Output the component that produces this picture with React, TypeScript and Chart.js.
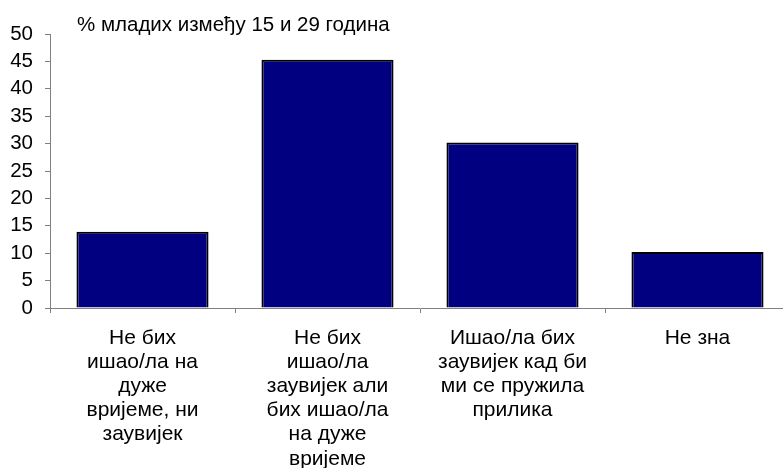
import React, { useEffect, useRef } from "react";
import { Chart, registerables } from "chart.js";

Chart.register(...registerables);

const categories: string[][] = [
  ["Не бих", "ишао/ла на", "дуже", "вријеме, ни", "заувијек"],
  ["Не бих", "ишао/ла", "заувијек али", "бих ишао/ла", "на дуже", "вријеме"],
  ["Ишао/ла бих", "заувијек кад би", "ми се пружила", "прилика"],
  ["Не зна"],
];
const values: number[] = [13.9, 45.3, 30.2, 10.2];
const yMin = 0;
const yMax = 50;
const yStep = 5;
const titleText = "% младих између 15 и 29 година";

const FONT = 'Arial, "Liberation Sans", sans-serif';

export default function App() {
  const ref = useRef<HTMLCanvasElement | null>(null);

  useEffect(() => {
    if (!ref.current) return;
    const titlePlugin = {
      id: "topTitle",
      afterDraw(chart: any) {
        const ctx = chart.ctx;
        ctx.save();
        ctx.font = `20.5px ${FONT}`;
        ctx.fillStyle = "#000";
        ctx.textAlign = "left";
        ctx.textBaseline = "alphabetic";
        ctx.fillText(titleText, chart.chartArea.left + 27, 31);
        ctx.restore();
      },
    };
    const chart = new Chart(ref.current, {
      type: "bar",
      data: {
        labels: categories,
        datasets: [
          {
            data: values,
            backgroundColor: "#000080",
            borderColor: "#000000",
            borderWidth: 2,
            categoryPercentage: 1,
            barPercentage: 0.714,
          },
        ],
      },
      options: {
        responsive: false,
        animation: false,
        layout: { padding: { top: 34, right: 10, left: 0, bottom: 0 } },
        plugins: {
          legend: { display: false },
          tooltip: { enabled: false },
          title: { display: false },
        },
        scales: {
          x: {
            grid: {
              display: true,
              drawOnChartArea: false,
              drawTicks: true,
              tickLength: 5,
              color: "#808080",
              offset: true,
            },
            border: { display: true, color: "#808080", width: 1 },
            ticks: {
              color: "#000",
              font: { family: FONT, size: 21, lineHeight: 1.15 },
              maxRotation: 0,
              minRotation: 0,
              autoSkip: false,
              padding: 13,
            },
            afterFit(scale: any) {
              scale.height = 160;
            },
          },
          y: {
            min: yMin,
            max: yMax,
            grid: {
              display: true,
              drawOnChartArea: false,
              drawTicks: true,
              tickLength: 5,
              color: "#808080",
            },
            border: { display: true, color: "#808080", width: 1 },
            ticks: {
              stepSize: yStep,
              autoSkip: false,
              color: "#000",
              font: { family: FONT, size: 20.5 },
              padding: 12,
            },
            afterFit(scale: any) {
              scale.width = 50;
            },
          },
        },
      },
      plugins: [titlePlugin],
    });
    return () => chart.destroy();
  }, []);

  return (
    <div
      style={{
        position: "fixed",
        left: 0,
        top: 0,
        width: 783,
        height: 468,
        overflow: "hidden",
        background: "#fff",
      }}
    >
      <canvas ref={ref} width={800} height={468} />
    </div>
  );
}
